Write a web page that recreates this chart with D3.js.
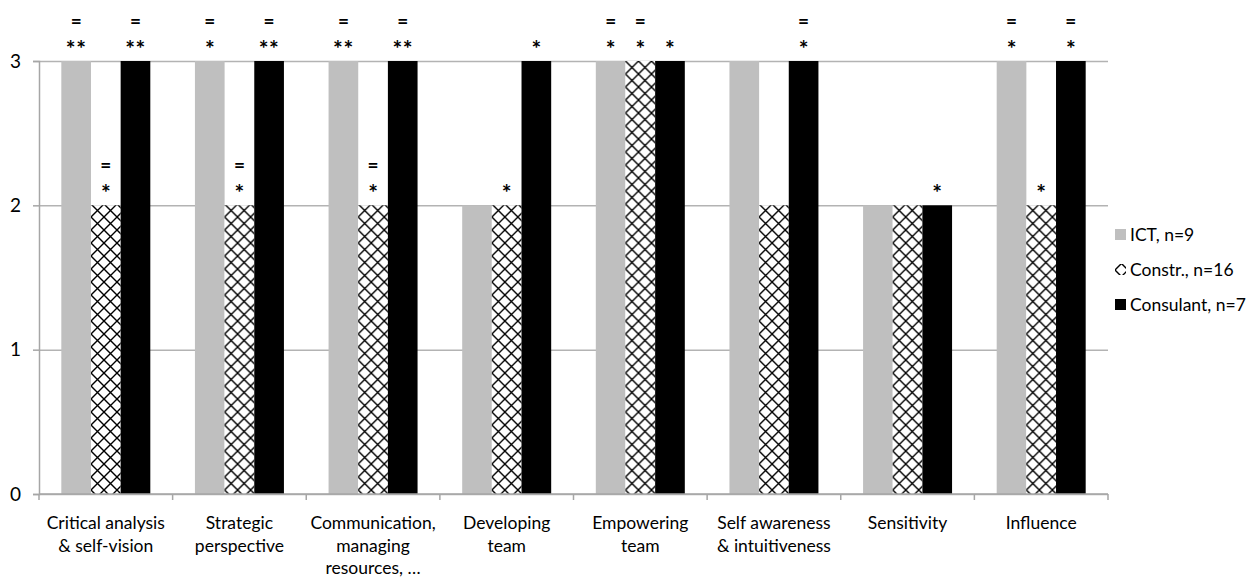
<!DOCTYPE html>
<html>
<head>
  <script src="https://d3js.org/d3.v7.min.js"></script>
  <style>
    body { margin: 0; background: #fff; }
    text { font-family: Lato, "Open Sans", sans-serif; fill: #000; }
    .axis .domain, .axis line { stroke: #a6a6a6; stroke-width: 1.5; }
    .grid line { stroke: #b3b3b3; stroke-width: 1.5; }
    .grid .domain { stroke: none; }
  </style>
</head>
<body>
<svg id="chart" width="1256" height="579"></svg>
<script>
  // data
  const categories = [
    "Critical analysis & self-vision",
    "Strategic perspective",
    "Communication, managing resources, ...",
    "Developing team",
    "Empowering team",
    "Self awareness & intuitiveness",
    "Sensitivity",
    "Influence"
  ];
  // how each label is broken into lines
  const categoryLines = [
    ["Critical analysis", "& self-vision"],
    ["Strategic", "perspective"],
    ["Communication,", "managing", "resources, \u2026"],
    ["Developing", "team"],
    ["Empowering", "team"],
    ["Self awareness", "& intuitiveness"],
    ["Sensitivity"],
    ["Influence"]
  ];
  const seriesNames = ["ICT, n=9", "Constr., n=16", "Consulant, n=7"];
  const ictValues        = [3, 3, 3, 2, 3, 3, 2, 3];
  const constrValues     = [2, 2, 2, 2, 3, 2, 2, 2];
  const consultantValues = [3, 3, 3, 3, 3, 3, 2, 3];
  // significance marks above each bar (lines top to bottom)
  const ictMarks        = [["=", "**"], ["=", "*"], ["=", "**"], [], ["=", "*"], [], [], ["=", "*"]];
  const constrMarks     = [["=", "*"], ["=", "*"], ["=", "*"], ["*"], ["=", "*"], [], [], ["*"]];
  const consultantMarks = [["=", "**"], ["=", "**"], ["=", "**"], ["*"], ["*"], ["=", "*"], ["*"], ["=", "*"]];
  const yTicks = [0, 1, 2, 3];

  const svg = d3.select("#chart");
  const margin = {top: 61, right: 148, bottom: 85, left: 39};
  const width = 1256 - margin.left - margin.right;
  const height = 579 - margin.top - margin.bottom;

  // crosshatch for the Constr. series
  const defs = svg.append("defs");
  const pat = defs.append("pattern")
      .attr("id", "hatch")
      .attr("patternUnits", "userSpaceOnUse")
      .attr("width", 13).attr("height", 13);
  pat.append("rect").attr("width", 13).attr("height", 13).attr("fill", "#fff");
  pat.append("path")
      .attr("d", "M0,0 L13,13 M13,0 L0,13")
      .attr("stroke", "#000")
      .attr("stroke-width", 1.4);

  const fills = ["#bfbfbf", "url(#hatch)", "#000"];
  const seriesValues = [ictValues, constrValues, consultantValues];
  const seriesMarks = [ictMarks, constrMarks, consultantMarks];

  const x0 = d3.scaleBand().domain(categories).range([0, width]).padding(0);
  const bw = x0.bandwidth();
  const x1 = d3.scaleBand().domain(seriesNames).range([bw * 0.167, bw * 0.833]).padding(0);
  const y = d3.scaleLinear().domain([0, 3]).range([height, 0]);

  const chart = svg.append("g").attr("transform", `translate(${margin.left},${margin.top})`);

  // gridlines
  chart.append("g")
      .attr("class", "grid")
      .call(d3.axisLeft(y).tickValues(yTicks).tickSize(-width).tickFormat(""));

  // bars
  const groups = chart.selectAll(".cat")
      .data(categories)
      .enter().append("g")
      .attr("class", "cat")
      .attr("transform", d => `translate(${x0(d)},0)`);

  groups.each(function(cat, ci) {
    const g = d3.select(this);
    seriesNames.forEach((s, si) => {
      const v = seriesValues[si][ci];
      g.append("rect")
          .attr("x", x1(s))
          .attr("y", y(v))
          .attr("width", x1.bandwidth())
          .attr("height", y(0) - y(v))
          .attr("fill", fills[si]);

      const marks = seriesMarks[si][ci];
      const n = marks.length;
      marks.forEach((m, mi) => {
        const fromBottom = n - 1 - mi;
        g.append("text")
            .attr("x", x1(s) + x1.bandwidth() / 2)
            .attr("y", m === "=" ? y(v) - 33 : y(v) - 4 - fromBottom * 24)
            .attr("text-anchor", "middle")
            .attr("font-size", m === "=" ? 19 : 23)
            .attr("font-weight", "bold")
            .attr("letter-spacing", m === "**" ? 0.5 : 0)
            .text(m);
      });
    });
  });

  // y axis
  const yAxis = chart.append("g")
      .attr("class", "axis")
      .call(d3.axisLeft(y).tickValues(yTicks).tickSize(6).tickPadding(12).tickFormat(d3.format("d")));
  yAxis.selectAll("text").attr("font-size", 19);

  // x axis
  const xAxis = chart.append("g")
      .attr("class", "axis")
      .attr("transform", `translate(0,${height})`);
  xAxis.append("line")
      .attr("x1", 0).attr("x2", width)
      .attr("y1", 0).attr("y2", 0);
  xAxis.selectAll(".xtick")
      .data(d3.range(categories.length + 1))
      .enter().append("line")
      .attr("class", "xtick")
      .attr("x1", i => i * bw).attr("x2", i => i * bw)
      .attr("y1", 0).attr("y2", 6);
  categories.forEach((c, ci) => {
    const t = xAxis.append("text")
        .attr("x", x0(c) + bw / 2)
        .attr("y", 35)
        .attr("text-anchor", "middle")
        .attr("font-size", 17.5);
    categoryLines[ci].forEach((line, li) => {
      t.append("tspan")
          .attr("x", x0(c) + bw / 2)
          .attr("dy", li === 0 ? 0 : 22.5)
          .text(line);
    });
  });

  // legend
  const legend = svg.append("g").attr("transform", "translate(1115,235)");
  seriesNames.forEach((s, si) => {
    const row = legend.append("g").attr("transform", `translate(0,${si * 35})`);
    row.append("rect")
        .attr("x", 0).attr("y", -6)
        .attr("width", 11).attr("height", 11)
        .attr("fill", fills[si]);
    row.append("text")
        .attr("x", 15).attr("y", 0)
        .attr("dy", "0.35em")
        .attr("font-size", 17.5)
        .text(s);
  });
</script>
</body>
</html>
